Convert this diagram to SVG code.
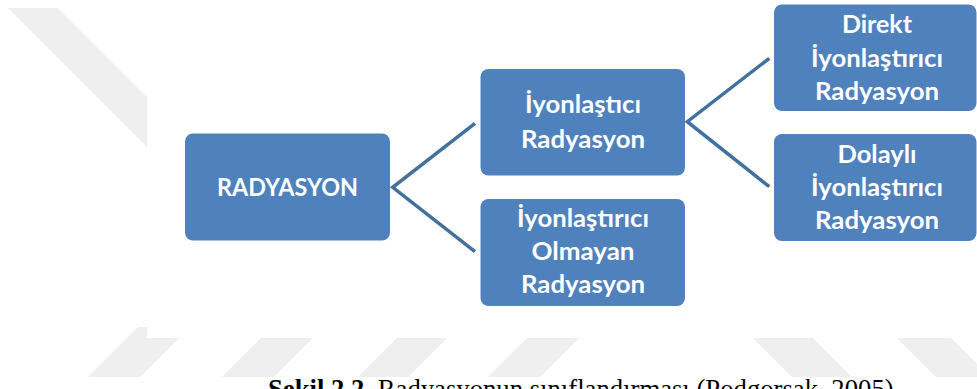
<svg xmlns="http://www.w3.org/2000/svg" width="977" height="389" viewBox="0 0 977 389">
<style>
.bg{fill:#ffffff}
.wm{fill:#efefef}
.box{fill:#4f81bd}
.lbl{fill:#ffffff;font-family:Lato,"Open Sans","Liberation Sans",sans-serif;font-weight:700;font-size:25px;text-anchor:middle}
.con{fill:none;stroke:#41719c;stroke-width:3.5;stroke-linejoin:miter}
.cap{font-family:"Liberation Serif","Times New Roman",serif;font-size:26.7px;fill:#000000}
</style>
<rect class="bg" x="0" y="0" width="977" height="389"/>
<g id="watermark">
  <polygon class="wm" points="8,8 58,8 200,150 150,150"/>
  <polygon class="wm" points="88,377 140,377 190,327 138,327"/>
  <polygon class="wm" points="222,377 274,377 324,327 272,327"/>
  <polygon class="wm" points="358,377 408,377 458,327 408,327"/>
  <polygon class="wm" points="488,377 540,377 590,327 538,327"/>
  <polygon class="wm" points="742,327 802,327 852,377 792,377"/>
  <polygon class="wm" points="886,327 940,327 990,377 936,377"/>
</g>
<rect class="bg" x="147" y="0" width="830" height="338"/>
<g id="connectors">
  <polyline class="con" points="475,123.3 392.7,187.3 475,251.7"/>
  <polyline class="con" points="769.3,58.3 687.3,121.7 769.3,186.7"/>
</g>
<g id="node-radyasyon">
  <rect class="box" x="185" y="133.5" width="205" height="107" rx="8"/>
  <text class="lbl" x="287.5" y="196" textLength="141" lengthAdjust="spacingAndGlyphs">RADYASYON</text>
</g>
<g id="node-iyonlastici">
  <rect class="box" x="480.5" y="69" width="204.5" height="106.5" rx="8"/>
  <text class="lbl" x="583" y="113.3" textLength="116" lengthAdjust="spacingAndGlyphs">İyonlaştıcı</text>
  <text class="lbl" x="583" y="147.5" textLength="124" lengthAdjust="spacingAndGlyphs">Radyasyon</text>
</g>
<g id="node-iyonlastirici-olmayan">
  <rect class="box" x="480.5" y="199" width="204.5" height="107" rx="8"/>
  <text class="lbl" x="583" y="226.7" textLength="132" lengthAdjust="spacingAndGlyphs">İyonlaştırıcı</text>
  <text class="lbl" x="583" y="260" textLength="103" lengthAdjust="spacingAndGlyphs">Olmayan</text>
  <text class="lbl" x="583" y="293.3" textLength="124" lengthAdjust="spacingAndGlyphs">Radyasyon</text>
</g>
<g id="node-direkt">
  <rect class="box" x="774" y="4.5" width="202.5" height="106.5" rx="8"/>
  <text class="lbl" x="877" y="33.3" textLength="70" lengthAdjust="spacingAndGlyphs">Direkt</text>
  <text class="lbl" x="877" y="66.5" textLength="132" lengthAdjust="spacingAndGlyphs">İyonlaştırıcı</text>
  <text class="lbl" x="877" y="100" textLength="124" lengthAdjust="spacingAndGlyphs">Radyasyon</text>
</g>
<g id="node-dolayli">
  <rect class="box" x="774" y="134" width="202.5" height="107" rx="8"/>
  <text class="lbl" x="877" y="162.7" textLength="79" lengthAdjust="spacingAndGlyphs">Dolaylı</text>
  <text class="lbl" x="877" y="196" textLength="132" lengthAdjust="spacingAndGlyphs">İyonlaştırıcı</text>
  <text class="lbl" x="877" y="229.3" textLength="124" lengthAdjust="spacingAndGlyphs">Radyasyon</text>
</g>
<text class="cap" x="268" y="398"><tspan font-weight="700">Şekil 2.2.</tspan> Radyasyonun sınıflandırması (Podgorsak, 2005)</text>
</svg>
